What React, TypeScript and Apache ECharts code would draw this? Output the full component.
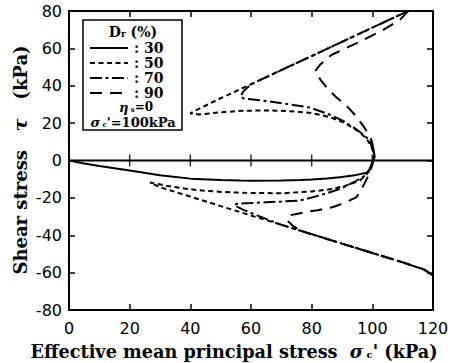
import React, { useEffect, useRef } from "react";
import * as echarts from "echarts";

const xTicks = [0, 20, 40, 60, 80, 100, 120];
const yTicks = [-80, -60, -40, -20, 0, 20, 40, 60, 80];
const zeroCrossTicks = [20, 40, 60, 80, 100];

const legendLabels = ["30", "50", "70", "90"];

// Dr = 30 %
const dr30: number[][] = [
  [99.2, 10.5], [100.3, 6], [100.8, 2], [100.3, 0], [99.5, -3.5], [98.7, -6.3],
  [94.8, -7.7], [90, -8.8], [85, -9.6], [80, -10.2], [76.2, -10.4], [70, -10.7],
  [60, -10.8], [56.4, -10.7], [50, -10.4], [40, -9.7], [30, -7.9], [20, -5.4],
  [10, -3], [5, -1.6], [0, 0],
];

// Dr = 50 %
const dr50: number[][] = [
  [111.8, 80], [100, 71.1], [90, 63.5], [80, 55.9], [70, 48.4], [60, 40.8], [50, 33.3],
  [41, 26.2], [40, 25.2], [43, 24.6], [50, 25.8], [57, 26.6], [65, 26.8], [73, 26.4],
  [80, 25.4], [86, 23.2], [91, 20], [95, 16], [98, 12], [99.5, 8], [100.5, 4],
  [100.4, 0], [99.3, -4], [98.2, -7.2], [95.9, -10.7], [91, -13.6], [87, -15.2],
  [80, -16.6], [70.7, -17.5], [60, -17.4], [50, -16.8], [44, -16.1], [38, -15],
  [32, -13.5], [28, -12.2], [26.7, -11.8], [30, -14.3], [40, -19.3], [50, -24.4],
  [60, -29.4], [70, -34.4], [80, -39.4], [90, -44.5], [100, -49.5], [110, -54.5],
  [117, -58.3], [120, -61.5],
];

// Dr = 70 %
const dr70: number[][] = [
  [111.8, 80], [100, 71.1], [90, 63.5], [80, 55.9], [70, 48.4], [60, 40.8],
  [57.5, 37], [56.5, 34.3], [57.5, 33.2], [65, 31.8], [72, 30.2], [79.5, 28.3],
  [86, 24.5], [90.4, 21.2], [94, 17.5], [97, 14], [99.2, 10.5], [100.3, 5],
  [100.3, 0], [99.2, -4.5], [97.6, -8.1], [94, -11.5], [89.4, -15.2], [83, -18.5],
  [76.2, -21.4], [70, -22], [65.2, -22.3], [60, -22.8], [55.3, -23.2], [54.5, -24],
  [57, -26], [62, -29.4], [70, -34.4], [80, -39.4], [90, -44.5], [100, -49.5],
  [110, -54.5], [117, -58.3], [120, -61.5],
];

// Dr = 90 %
const dr90: number[][] = [
  [111.8, 80], [109.1, 75.2], [103.6, 69.9], [94.9, 62.8], [86.6, 56.6], [82.8, 51.3],
  [81.1, 47.7], [83, 43], [85, 38.9], [88, 34], [91.6, 29.1], [94.5, 24], [97, 18.5],
  [98.8, 14], [99.8, 10.5], [100.5, 5], [100.4, 0], [99.5, -5], [98.2, -9.8],
  [97.1, -13.3], [94.8, -19.6], [91, -22.6], [87.1, -24.9], [82, -26.6], [78.4, -27.5],
  [75, -28.6], [72.9, -29.3], [71.8, -31.1], [72.3, -32.7], [74, -35.2], [78, -38.5],
  [80, -39.4], [90, -44.5], [100, -49.5], [110, -54.5], [117, -58.3], [120, -61.5],
];

const zeroLine: number[][] = [[0, 0], [120, 0]];

const DASH_50 = [5, 3.5];
const DASH_70 = [12, 3.5, 3, 3.5];
const DASH_90 = [12, 8];

const SERIF = "'DejaVu Serif', 'Liberation Serif', serif";
const SANS = "'DejaVu Sans', sans-serif";

export default function App() {
  const ref = useRef<HTMLDivElement>(null);

  useEffect(() => {
    document.body.style.margin = "0";
    if (!ref.current) return;
    const chart = echarts.init(ref.current, undefined, { renderer: "svg" });

    const axisCommon = {
      type: "value" as const,
      splitLine: { show: false },
      axisLine: { show: true, onZero: false, lineStyle: { color: "#000", width: 2 } },
      axisTick: { show: true, inside: true, length: 6, lineStyle: { color: "#000", width: 1.5 } },
    };

    const lineSeries = (name: string, data: number[][], dash: any) => ({
      name,
      type: "line",
      data,
      showSymbol: false,
      symbol: "none",
      smooth: false,
      silent: true,
      lineStyle: { color: "#000", width: 2, type: dash },
    });

    const dashes: any[] = [null, DASH_50, DASH_70, DASH_90];
    const legendRows: any[] = [];
    legendLabels.forEach((lab, i) => {
      const y = 48 + i * 15;
      legendRows.push({
        type: "line",
        z: 101,
        shape: { x1: 90, y1: y, x2: 128, y2: y },
        style: { stroke: "#000", lineWidth: 2, lineDash: dashes[i] || undefined },
      });
      legendRows.push({
        type: "text",
        z: 101,
        x: 134,
        y,
        style: {
          text: ": " + lab,
          font: `bold 14px ${SERIF}`,
          fill: "#000",
          verticalAlign: "middle",
          align: "left",
        },
      });
    });

    chart.setOption({
      animation: false,
      backgroundColor: "#fff",
      grid: { left: 69, right: 33, top: 11, bottom: 53, containLabel: false },
      xAxis: [
        {
          ...axisCommon,
          position: "bottom",
          min: 0,
          max: 120,
          interval: 20,
          axisLabel: {
            show: true,
            color: "#000",
            fontFamily: SANS,
            fontSize: 16,
            margin: 10,
            formatter: (v: number) => (xTicks.includes(v) ? String(v) : ""),
          },
        },
        {
          ...axisCommon,
          position: "top",
          min: 0,
          max: 120,
          interval: 20,
          axisLabel: { show: false },
        },
      ],
      yAxis: [
        {
          ...axisCommon,
          position: "left",
          min: -80,
          max: 80,
          interval: 20,
          axisLabel: {
            show: true,
            color: "#000",
            fontFamily: SANS,
            fontSize: 16,
            margin: 7,
            formatter: (v: number) => (yTicks.includes(v) ? String(v) : ""),
          },
        },
        {
          ...axisCommon,
          position: "right",
          min: -80,
          max: 80,
          interval: 20,
          axisLabel: { show: false },
        },
      ],
      series: [
        lineSeries("zero", zeroLine, "solid"),
        {
          name: "zeroTicks",
          type: "scatter",
          data: zeroCrossTicks.map((x) => [x, 0]),
          symbol: "rect",
          symbolSize: [1.5, 12],
          itemStyle: { color: "#000" },
          silent: true,
        },
        lineSeries("30", dr30, "solid"),
        lineSeries("50", dr50, DASH_50),
        lineSeries("70", dr70, DASH_70),
        lineSeries("90", dr90, DASH_90),
      ],
      graphic: [
        {
          type: "rect",
          z: 100,
          shape: { x: 83, y: 20, width: 99, height: 110 },
          style: { fill: "#fff", stroke: "#000", lineWidth: 1.5 },
        },
        {
          type: "text",
          z: 101,
          x: 133,
          y: 32,
          style: {
            text: "{a|D}{s|r}{a| (%)}",
            rich: {
              a: { font: `bold 14px ${SERIF}`, fill: "#000", lineHeight: 14 },
              s: { font: `bold 9px ${SERIF}`, fill: "#000", padding: [4, 0, 0, 0], lineHeight: 9 },
            },
            align: "center",
            verticalAlign: "middle",
          },
        },
        ...legendRows,
        {
          type: "text",
          z: 101,
          x: 136,
          y: 107,
          style: {
            text: "{i|η}{s| s}{a|=0}",
            rich: {
              i: { font: `italic bold 13px ${SERIF}`, fill: "#000", lineHeight: 12 },
              a: { font: `bold 12px ${SERIF}`, fill: "#000", lineHeight: 12 },
              s: { font: `bold 7px ${SERIF}`, fill: "#000", padding: [4, 0, 0, 0], lineHeight: 7 },
            },
            align: "center",
            verticalAlign: "middle",
          },
        },
        {
          type: "text",
          z: 101,
          x: 133,
          y: 122,
          style: {
            text: "{i|σ}{s| c}{a|'=100kPa}",
            rich: {
              i: { font: `italic bold 13px ${SERIF}`, fill: "#000", lineHeight: 12 },
              a: { font: `bold 13px ${SERIF}`, fill: "#000", lineHeight: 12 },
              s: { font: `bold 7px ${SERIF}`, fill: "#000", padding: [4, 0, 0, 0], lineHeight: 7 },
            },
            align: "center",
            verticalAlign: "middle",
          },
        },
        {
          type: "text",
          x: 20,
          y: 160,
          rotation: Math.PI / 2,
          style: {
            text: "{a|Shear stress   }{i|τ}{a|   (kPa)}",
            rich: {
              a: { font: `bold 18px ${SERIF}`, fill: "#000" },
              i: { font: `italic bold 19px ${SERIF}`, fill: "#000" },
            },
            align: "center",
            verticalAlign: "middle",
          },
        },
        {
          type: "text",
          x: 234,
          y: 351,
          style: {
            text: "{a|Effective mean principal stress  }{i|σ}{s| c}{a|' (kPa)}",
            rich: {
              a: { font: `bold 17.7px ${SERIF}`, fill: "#000" },
              i: { font: `italic bold 18px ${SERIF}`, fill: "#000" },
              s: { font: `bold 10px ${SERIF}`, fill: "#000", padding: [6, 0, 0, 0] },
            },
            align: "center",
            verticalAlign: "middle",
          },
        },
      ],
    });

    return () => chart.dispose();
  }, []);

  return <div ref={ref} style={{ width: 466, height: 363 }} />;
}
